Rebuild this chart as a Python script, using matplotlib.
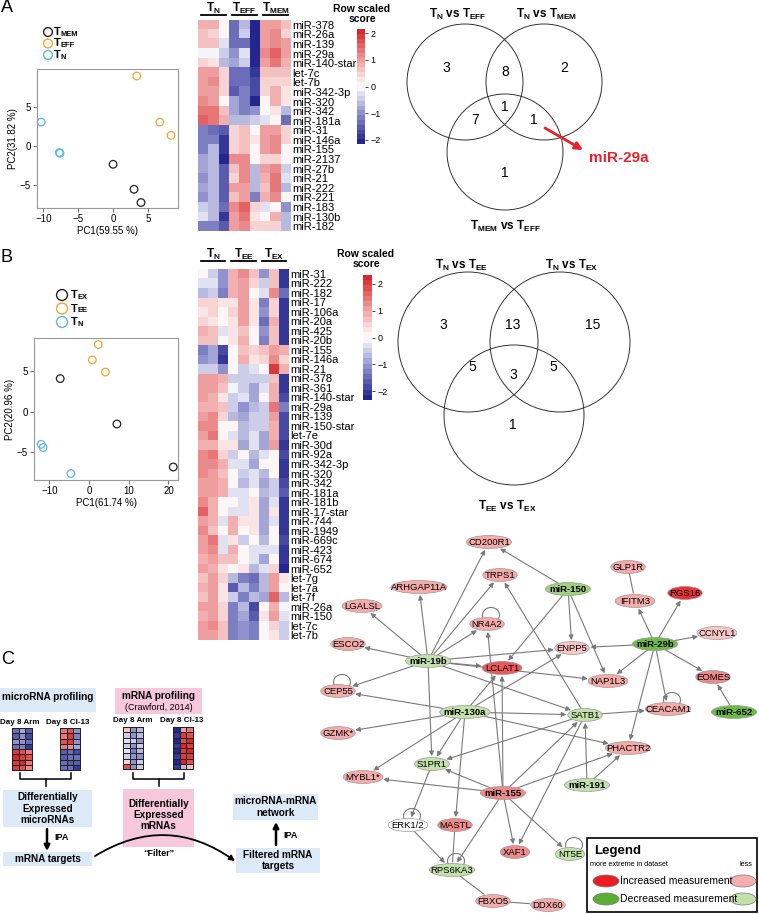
import numpy as np
import matplotlib.pyplot as plt
from matplotlib.colors import LinearSegmentedColormap
from matplotlib.patches import Ellipse, Circle, Rectangle, FancyArrowPatch, Arc

plt.rcParams['font.family'] = ['Liberation Sans', 'DejaVu Sans']
plt.rcParams['mathtext.fontset'] = 'custom'
plt.rcParams['mathtext.rm'] = 'Liberation Sans'
plt.rcParams['mathtext.bf'] = 'Liberation Sans:bold'
plt.rcParams['mathtext.it'] = 'Liberation Sans:italic'

# ---- data ----
# PCA panel A
pca_a_mem_x = [0.0, 3.0, 4.0]
pca_a_mem_y = [-2.3, -5.5, -7.2]
pca_a_eff_x = [3.4, 6.7, 8.3]
pca_a_eff_y = [9.0, 3.1, 1.4]
pca_a_n_x = [-10.3, -7.7, -7.6]
pca_a_n_y = [3.1, -0.8, -0.9]
# PCA panel B
pca_b_ex_x = [-7.3, 7.0, 21.2]
pca_b_ex_y = [4.1, -1.5, -6.8]
pca_b_ee_x = [2.3, 0.8, 4.1]
pca_b_ee_y = [8.3, 6.4, 4.9]
pca_b_n_x = [-12.1, -11.6, -4.6]
pca_b_n_y = [-4.0, -4.4, -7.6]

# heatmap A (TN x3, TEFF x3, TMEM x3)
heat_a_rows = ['miR-378', 'miR-26a', 'miR-139', 'miR-29a', 'miR-140-star', 'let-7c', 'let-7b',
               'miR-342-3p', 'miR-320', 'miR-342', 'miR-181a', 'miR-31', 'miR-146a', 'miR-155',
               'miR-2137', 'miR-27b', 'miR-21', 'miR-222', 'miR-221', 'miR-183', 'miR-130b', 'miR-182']
heat_a = [
    [0.8, 0.8, 0.1, -1.3, -0.7, -2.0, 1.0, 1.0, 0.6],
    [0.6, 0.4, 0.0, -1.3, -0.5, -2.0, 1.0, 1.1, 0.5],
    [0.6, 0.6, -0.3, -1.3, -1.3, -2.0, 1.0, 1.2, 0.9],
    [-0.1, -0.1, -0.5, -0.9, -0.2, -2.0, 1.1, 1.5, 0.9],
    [0.5, 0.2, -0.6, -0.8, -0.4, -2.0, 1.0, 1.3, 0.8],
    [1.0, 1.0, 0.4, -1.4, -1.3, -1.8, 0.6, 0.6, 0.6],
    [1.0, 1.1, 0.4, -1.4, -1.3, -1.7, 0.5, 0.5, 0.5],
    [1.0, 1.0, 0.5, -1.6, -1.2, -1.7, 0.4, 0.8, 0.3],
    [1.2, 1.0, 0.1, -0.8, -1.2, -2.0, 0.1, 0.8, 0.3],
    [1.4, 1.4, 0.7, -0.8, -1.2, -1.0, 0.0, 0.3, -0.7],
    [1.5, 1.4, 0.8, -0.6, -0.6, -0.5, -0.3, 0.0, -1.4],
    [-1.2, -1.4, -1.6, 0.5, 0.7, 0.0, 1.0, 1.0, 0.4],
    [-1.2, -1.1, -1.8, 0.4, 0.7, 0.2, 1.0, 1.1, 0.4],
    [-1.1, -0.7, -1.9, 0.4, 0.7, 0.1, 0.9, 1.1, 0.0],
    [-0.8, -0.6, -2.2, 1.1, 1.1, 0.0, 0.4, 0.5, 0.1],
    [-0.8, -0.6, -1.6, 0.7, 1.1, -0.7, 0.9, 1.1, -0.4],
    [-0.9, -0.6, -1.6, 0.5, 1.1, -0.7, 0.8, 1.3, -0.3],
    [-0.8, -0.6, -1.5, 1.0, 0.9, -0.6, 0.6, 1.3, -0.6],
    [-1.0, -0.6, -1.6, 0.6, 1.0, -1.1, 0.8, 1.2, 0.0],
    [-0.5, -0.6, -1.3, 1.2, 1.6, 0.4, -0.3, 0.1, -1.0],
    [-0.2, -0.7, -1.8, 1.0, 1.4, 0.2, 0.1, 0.8, -0.7],
    [-1.1, -1.1, -1.6, 1.0, 1.2, 0.5, 0.4, 0.4, -0.6],
]

# heatmap B (TN x3, TEE x3, TEX x3)
heat_b_rows = ['miR-31', 'miR-222', 'miR-182', 'miR-17', 'miR-106a', 'miR-20a', 'miR-425', 'miR-20b',
               'miR-155', 'miR-146a', 'miR-21', 'miR-378', 'miR-361', 'miR-140-star', 'miR-29a',
               'miR-139', 'miR-150-star', 'let-7e', 'miR-30d', 'miR-92a', 'miR-342-3p', 'miR-320',
               'miR-342', 'miR-181a', 'miR-181b', 'miR-17-star', 'miR-744', 'miR-1949', 'miR-669c',
               'miR-423', 'miR-674', 'miR-652', 'let-7g', 'let-7a', 'let-7f', 'miR-26a', 'miR-150',
               'let-7c', 'let-7b']
heat_b = [
    [0.0, -0.5, -1.0, 0.9, 1.3, 0.6, -1.0, 0.7, -2.0],
    [-0.3, -0.3, -1.0, 0.8, 1.1, 0.5, -0.4, 0.7, -2.0],
    [-0.6, -0.4, -1.3, 0.8, 1.1, 0.0, -0.2, 1.2, -1.5],
    [0.4, 0.4, 0.2, 0.2, 1.1, 0.3, -1.3, 0.5, -2.1],
    [0.2, 0.5, 0.0, 0.5, 1.1, 0.3, -1.1, 0.5, -2.1],
    [0.4, 0.2, 0.0, 0.2, 1.0, 0.2, -1.5, 0.8, -2.0],
    [0.9, 0.6, -0.2, 0.2, 0.6, 0.0, -1.1, 0.7, -2.0],
    [0.6, 0.6, 0.1, 0.3, 0.9, 0.0, -1.2, 0.7, -2.0],
    [-1.3, -0.9, -1.9, 0.0, 0.7, 0.4, 0.6, 1.0, 0.9],
    [-1.1, -0.8, -2.0, 0.0, 0.8, 0.2, 0.4, 1.3, 0.5],
    [-0.4, -0.4, -1.1, 0.0, -0.4, -0.2, 0.1, 2.1, 0.8],
    [1.1, 1.1, 0.8, -0.4, -0.4, -0.4, -0.4, 0.7, -2.0],
    [1.1, 1.0, 0.6, -0.1, -0.4, -0.8, -0.3, 0.9, -2.0],
    [1.1, 0.9, 0.3, -0.5, -0.3, -0.9, 0.0, 0.9, -1.9],
    [0.9, 0.9, 0.6, -0.5, -1.0, -0.7, -0.4, 1.5, -1.2],
    [1.1, 1.3, 0.5, -0.6, -0.8, -0.5, -0.4, 1.0, -1.8],
    [1.2, 1.2, 0.1, 0.1, -0.6, -0.5, -0.5, 0.8, -1.9],
    [1.1, 1.4, 0.1, -0.3, -0.6, -0.2, -0.9, 0.8, -1.8],
    [0.9, 0.9, 0.3, 0.3, -0.8, -0.2, -0.8, 1.0, -2.0],
    [1.3, 1.4, 0.4, -0.4, 0.0, -0.7, -0.3, 0.1, -1.8],
    [1.2, 1.2, 0.8, -0.3, -0.2, -0.8, 0.0, 0.0, -2.1],
    [1.2, 1.1, 0.7, 0.0, -0.5, -0.3, -0.6, 0.1, -2.0],
    [1.1, 1.1, 0.8, 0.0, -0.7, -0.3, -0.8, -0.4, -1.8],
    [1.1, 1.1, 0.8, -0.2, -0.3, 0.0, -0.7, -0.4, -1.6],
    [1.3, 0.9, 0.0, 0.1, -0.2, 0.2, -0.9, -0.2, -2.0],
    [1.6, 0.9, 0.0, -0.2, -0.2, 0.2, -0.9, 0.2, -2.0],
    [1.0, 0.8, -0.2, 0.9, 0.2, 0.3, -0.9, -0.2, -2.1],
    [1.3, 0.6, 0.0, 0.8, 0.0, 0.3, -0.9, 0.0, -2.1],
    [1.0, 1.5, -0.2, 0.2, -0.5, 0.0, -0.6, 0.0, -1.8],
    [1.0, 1.3, -0.2, 0.8, 0.0, -0.2, -0.2, -0.2, -2.0],
    [0.9, 1.1, 0.6, 0.6, 0.0, -0.3, -0.9, 0.0, -2.0],
    [1.0, 0.8, 0.2, 0.0, 0.3, -0.6, -0.2, 0.4, -2.2],
    [0.6, 1.1, 0.4, -0.7, -1.2, -1.5, -0.7, 1.1, 0.2],
    [0.9, 1.1, 0.3, -1.6, -0.7, -1.2, -0.6, 1.1, 0.0],
    [0.6, 1.1, 0.3, -0.5, -1.2, -0.7, -0.8, 1.6, -0.6],
    [1.0, 1.1, 0.5, -1.3, -0.7, -1.9, 0.0, 0.9, -0.1],
    [0.9, 1.0, 0.5, -1.3, -0.8, -1.6, 0.3, 1.0, -0.3],
    [1.1, 1.2, 0.6, -1.2, -1.0, -1.3, 0.0, 0.4, -0.4],
    [1.1, 1.1, 0.6, -1.2, -1.0, -1.2, 0.0, 0.3, -0.5],
]

# Venn counts: only1, only2, 1&2, 1&3, 2&3, all, only3
venn_a_counts = [3, 2, 8, 7, 1, 1, 1]
venn_b_counts = [3, 15, 13, 5, 5, 3, 1]

# flowchart mini heatmaps (8 rows x 3 cols)
mirna_arm = [[-1.2, -0.8, -1.5], [-1.4, -1.0, -1.6], [-1.0, -0.9, -1.3], [-1.3, -1.1, -1.7],
             [1.8, 1.6, 1.2], [1.9, 1.7, 1.5], [1.7, 1.9, 1.3], [1.8, 1.6, 1.0]]
mirna_cl13 = [[1.3, 1.5, -1.0], [1.2, 1.7, -1.1], [1.5, 1.8, -0.9], [1.2, 1.0, -0.8],
              [-1.4, -1.2, -1.6], [-1.5, -1.3, -1.2], [-1.2, -1.4, -1.5], [-1.3, -1.2, -1.7]]
mrna_arm = [[0.6, -0.9, -0.6], [-0.4, -1.0, -0.6], [-0.3, -0.5, -1.0], [-0.5, -0.9, -0.5],
            [-0.3, -1.1, -0.6], [-0.5, -0.9, -0.9], [0.4, -1.0, -0.5], [1.6, -1.0, -0.4]]
mrna_cl13 = [[-1.9, 0.9, 1.2], [-1.8, 1.8, 1.5], [-1.9, 1.6, 1.9], [-1.8, 1.9, 1.7],
             [-1.9, 1.8, 1.9], [-1.8, 1.7, 1.8], [-1.9, 1.9, 1.6], [-1.8, -0.6, 0.5]]

# network: name -> (x, y, shade)
net_nodes = {
    'CD200R1': (489, 542, 'p'), 'TRPS1': (500, 575, 'p'), 'ARHGAP11A': (419, 587, 'p'),
    'miR-150': (568, 589, 'g2'), 'GLP1R': (628, 567, 'p'), 'IFITM3': (635, 601, 'p'),
    'RGS16': (685, 593, 'r'), 'NR4A2': (487, 624, 'p'), 'CCNYL1': (717, 633, 'p0'),
    'ENPP5': (572, 648, 'p0'), 'miR-29b': (655, 644, 'g3'), 'miR-19b': (428, 661, 'g1'),
    'LCLAT1': (502, 668, 'r2'), 'NAP1L3': (608, 681, 'p'), 'EOMES': (713, 677, 'p2'),
    'LGALSL': (362, 606, 'p'), 'ESCO2': (348, 644, 'p'), 'CEP55': (338, 691, 'p'),
    'GZMK*': (338, 733, 'p'), 'MYBL1*': (363, 777, 'p'), 'miR-130a': (465, 712, 'g1'),
    'SATB1': (585, 715, 'g1'), 'CEACAM1': (668, 709, 'p'), 'miR-652': (734, 712, 'g3'),
    'PHACTR2': (628, 748, 'p'), 'S1PR1': (432, 764, 'g1'), 'miR-191': (587, 785, 'g1'),
    'miR-155': (503, 793, 'p2'), 'ERK1/2': (408, 825, 'w'), 'MASTL': (455, 825, 'p2'),
    'XAF1': (515, 852, 'p2'), 'NT5E': (570, 854, 'g1'), 'RPS6KA3': (452, 870, 'g1'),
    'FBXO5': (493, 901, 'p'), 'DDX60': (548, 905, 'p'),
}
net_arrows = [
    ('miR-150', 'CD200R1'), ('miR-150', 'ENPP5'), ('miR-150', 'NAP1L3'), ('miR-150', 'LCLAT1'),
    ('miR-29b', 'IFITM3'), ('miR-29b', 'RGS16'), ('miR-29b', 'CCNYL1'), ('miR-29b', 'EOMES'),
    ('miR-29b', 'ENPP5'), ('miR-29b', 'NAP1L3'), ('miR-29b', 'CEACAM1'), ('miR-29b', 'PHACTR2'),
    ('miR-652', 'EOMES'),
    ('miR-19b', 'ARHGAP11A'), ('miR-19b', 'CD200R1'), ('miR-19b', 'TRPS1'), ('miR-19b', 'NR4A2'),
    ('miR-19b', 'ENPP5'), ('miR-19b', 'LCLAT1'), ('miR-19b', 'NAP1L3'), ('miR-19b', 'LGALSL'),
    ('miR-19b', 'ESCO2'), ('miR-19b', 'CEP55'), ('miR-19b', 'S1PR1'), ('miR-19b', 'SATB1'),
    ('miR-130a', 'CEP55'), ('miR-130a', 'GZMK*'), ('miR-130a', 'MYBL1*'), ('miR-130a', 'S1PR1'),
    ('miR-130a', 'SATB1'), ('miR-130a', 'PHACTR2'), ('miR-130a', 'MASTL'), ('miR-130a', 'ENPP5'),
    ('miR-130a', 'LCLAT1'),
    ('miR-155', 'S1PR1'), ('miR-155', 'PHACTR2'), ('miR-155', 'SATB1'), ('miR-155', 'XAF1'),
    ('miR-155', 'NT5E'), ('miR-155', 'RPS6KA3'), ('miR-155', 'LCLAT1'), ('miR-155', 'NR4A2'),
    ('miR-155', 'MYBL1*'),
    ('SATB1', 'CEACAM1'), ('SATB1', 'XAF1'), ('SATB1', 'S1PR1'), ('SATB1', 'TRPS1'),
    ('miR-191', 'SATB1'), ('miR-191', 'PHACTR2'),
    ('S1PR1', 'ERK1/2'), ('ERK1/2', 'RPS6KA3'),
]
net_lines = [('GLP1R', 'IFITM3'), ('MASTL', 'RPS6KA3'), ('RPS6KA3', 'FBXO5'), ('FBXO5', 'DDX60')]
net_loops = ['NR4A2', 'CEACAM1', 'ERK1/2', 'RPS6KA3', 'NT5E', 'CEP55']

# ---- figure ----
W, H = 759, 914
fig = plt.figure(figsize=(W / 100, H / 100), dpi=100)


def px_axes(x, y, w, h):
    return fig.add_axes([x / W, 1 - (y + h) / H, w / W, h / H])


ov = px_axes(0, 0, W, H)
ov.set_xlim(0, W)
ov.set_ylim(H, 0)
ov.axis('off')


def tsub(s):
    return r'$\mathbf{T_{%s}}$' % s


def t_label(x, y, sub, fs=8):
    # bold T followed by a small, slightly lowered subscript
    ov.text(x, y, 'T', fontsize=fs, fontweight='bold', va='center', ha='left')
    ov.annotate(sub, xy=(x, y), xytext=(0.62 * fs, -1.5), textcoords='offset points',
                fontsize=fs * 0.68, fontweight='bold', va='center', ha='left')


heat_cmap = LinearSegmentedColormap.from_list(
    'rb', ['#23268e', '#8b8dcc', '#ffffff', '#ee9a9a', '#d8262a']).resampled(24)

C_BLACK, C_ORANGE, C_BLUE = '#222222', '#f0a630', '#5db6e8'

# panel letters
ov.text(1, 8, 'A', fontsize=13, va='center')
ov.text(1, 257, 'B', fontsize=13, va='center')
ov.text(1, 659, 'C', fontsize=13, va='center')


def pca(box, groups, xlim, ylim, xt, yt, xl, yl):
    ax = px_axes(*box)
    for xs, ys, c in groups:
        ax.scatter(xs, ys, s=30, facecolors='none', edgecolors=c, linewidths=0.9, clip_on=False)
    ax.set_xlim(*xlim)
    ax.set_ylim(*ylim)
    ax.set_xticks(xt)
    ax.set_yticks(yt)
    ax.tick_params(labelsize=7, length=3, width=0.6, color='#555555', pad=1.5)
    for s in ax.spines.values():
        s.set_color('#999999')
        s.set_linewidth(0.8)
    ax.set_xlabel(xl, fontsize=7, labelpad=1)
    ax.set_ylabel(yl, fontsize=7, labelpad=1)
    return ax


pca((37, 69, 141, 139),
    [(pca_a_mem_x, pca_a_mem_y, C_BLACK), (pca_a_eff_x, pca_a_eff_y, C_ORANGE), (pca_a_n_x, pca_a_n_y, C_BLUE)],
    (-10.9, 9.3), (-7.9, 9.9), [-10, -5, 0, 5], [-5, 0, 5], 'PC1(59.55 %)', 'PC2(31.82 %)')
pca((34, 338, 144, 142),
    [(pca_b_ex_x, pca_b_ex_y, C_BLACK), (pca_b_ee_x, pca_b_ee_y, C_ORANGE), (pca_b_n_x, pca_b_n_y, C_BLUE)],
    (-13.9, 22.4), (-8.4, 9.1), [-10, 0, 10, 20], [-5, 0, 5], 'PC1(61.74 %)', 'PC2(20.96 %)')

# PCA legends
for (cx, cy, lab, c, sz) in [(48, 32, 'MEM', C_BLACK, 40), (48, 43.5, 'EFF', C_ORANGE, 40), (48, 55, 'N', C_BLUE, 40),
                             (62, 295, 'EX', C_BLACK, 62), (62, 308.5, 'EE', C_ORANGE, 62), (62, 322, 'N', C_BLUE, 62)]:
    ov.scatter([cx], [cy], s=sz, facecolors='none', edgecolors=c, linewidths=1.0)
    t_label(cx + 6 + (sz - 40) / 8, cy, lab)


def heatmap(x, y, w, h, vals, rows, vlim, fs):
    ax = px_axes(x, y, w, h)
    im = ax.imshow(np.array(vals), cmap=heat_cmap, vmin=-vlim, vmax=vlim, aspect='auto', interpolation='nearest')
    ax.set_yticks(range(len(rows)))
    ax.set_yticklabels(rows, fontsize=fs)
    ax.yaxis.tick_right()
    ax.tick_params(length=0, pad=1)
    ax.set_xticks([])
    for s in ax.spines.values():
        s.set_visible(False)
    return im


def groups_header(x0, w, y, labels):
    cw = w / 3
    for i, lab in enumerate(labels):
        cx = x0 + cw * (i + 0.5)
        ov.text(cx, y, tsub(lab), fontsize=8.5, ha='center', va='center')
        ov.plot([x0 + cw * i + 3, x0 + cw * (i + 1) - 3], [y + 7, y + 7], color='k', lw=1.3)


def colorbar(im, x, y, w, h, tx, ty):
    cax = px_axes(x, y, w, h)
    cb = fig.colorbar(im, cax=cax, ticks=[-2, -1, 0, 1, 2])
    cb.outline.set_visible(False)
    cax.tick_params(labelsize=6.5, length=2, width=0.5, pad=2)
    ov.text(tx, ty, 'Row scaled\nscore', fontsize=7.5, fontweight='bold', ha='center', va='center',
            linespacing=0.95)


im_a = heatmap(198, 20, 93, 211, heat_a, heat_a_rows, 2.15, 8)
groups_header(198, 93, 8, ['N', 'EFF', 'MEM'])
colorbar(im_a, 357, 29, 8, 115, 362, 14)

im_b = heatmap(198, 269, 91, 371, heat_b, heat_b_rows, 2.33, 8)
groups_header(198, 91, 254, ['N', 'EE', 'EX'])
colorbar(im_b, 363, 275, 9, 125, 366, 259)


# Venn diagrams
def venn(c1, c2, c3, r, counts, pos, titles, tpos, fs):
    for c in (c1, c2, c3):
        ov.add_patch(Circle(c, r, fill=False, ec='#333333', lw=0.7))
    for n, p in zip(counts, pos):
        ov.text(p[0], p[1], str(n), fontsize=fs, ha='center', va='center')
    for t, p in zip(titles, tpos):
        ov.text(p[0], p[1], t, fontsize=8.5, ha='center', va='center')


venn((465, 82), (544, 82), (505, 152), 58, venn_a_counts,
     [(446, 68), (564, 68), (505, 72), (475, 120), (534, 120), (505, 107), (505, 173)],
     [r'$\mathbf{T_{N}\ vs\ T_{EFF}}$', r'$\mathbf{T_{N}\ vs\ T_{MEM}}$', r'$\mathbf{T_{MEM}\ vs\ T_{EFF}}$'],
     [(458, 14), (547, 14), (505, 226)], 10)
ov.add_patch(FancyArrowPatch((545, 128), (583, 150), arrowstyle='-|>', mutation_scale=11, lw=2,
                             color='#e8212a', shrinkA=0, shrinkB=0))
ov.text(589, 158, 'miR-29a', fontsize=11, fontweight='bold', color='#e8212a', va='center')

venn((468, 342), (560, 342), (514, 415), 70, venn_b_counts,
     [(443, 325), (593, 325), (513, 325), (472, 367), (553, 367), (513, 375), (513, 425)],
     [r'$\mathbf{T_{N}\ vs\ T_{EE}}$', r'$\mathbf{T_{N}\ vs\ T_{EX}}$', r'$\mathbf{T_{EE}\ vs\ T_{EX}}$'],
     [(462, 265), (572, 265), (507, 506)], 10)

# ---- flowchart ----
BLUE_BOX, PINK_BOX = '#dce9f6', '#f7c8dc'


def box(x, y, w, h, fc, text, fs=7.2, ty=None):
    ov.add_patch(Rectangle((x, y), w, h, fc=fc, ec='none'))
    ov.text(x + w / 2, ty if ty is not None else y + h / 2, text, fontsize=fs, fontweight='bold',
            ha='center', va='center', linespacing=1.15)


box(0, 688, 96, 24, BLUE_BOX, 'microRNA profiling', ty=697)
box(115, 688, 87, 26, PINK_BOX, 'mRNA profiling', ty=696)
ov.text(158.5, 707, '(Crawford, 2014)', fontsize=6.5, ha='center', va='center')
for x, y, t in [(20, 722, 'Day 8 Arm'), (68, 722, 'Day 8 Cl-13'), (133, 720, 'Day 8 Arm'), (182, 720, 'Day 8 Cl-13')]:
    ov.text(x, y, t, fontsize=5.8, fontweight='bold', ha='center', va='center')


def mini_heat(x0, y0, vals):
    v = np.array(vals)
    xs = np.linspace(x0, x0 + 20, 4)
    ys = np.linspace(y0, y0 + 42, 9)
    ov.pcolormesh(xs, ys, v, cmap=heat_cmap, vmin=-2, vmax=2, edgecolors='#222222', linewidth=0.4)


mini_heat(12, 728, mirna_arm)
mini_heat(60, 728, mirna_cl13)
mini_heat(123, 727, mrna_arm)
mini_heat(173, 727, mrna_cl13)

for xa, xb in [(20, 71), (133, 184)]:
    ov.plot([xa, xa, xb, xb], [773, 779, 779, 773], color='k', lw=1.1)
    ov.plot([(xa + xb) / 2] * 2, [779, 786], color='k', lw=1.1)

box(3, 790, 89, 37, BLUE_BOX, 'Differentially\nExpressed\nmicroRNAs')
box(3, 852, 89, 14, BLUE_BOX, 'mRNA targets')
box(123, 789, 71, 58, PINK_BOX, 'Differentially\nExpressed\nmRNAs', ty=815)
box(236, 848, 84, 25, BLUE_BOX, 'Filtered mRNA\ntargets')
box(233, 794, 85, 26, BLUE_BOX, 'microRNA-mRNA\nnetwork')

ov.add_patch(FancyArrowPatch((47, 829), (47, 851), arrowstyle='-|>', mutation_scale=8, lw=1.8,
                             color='k', shrinkA=0, shrinkB=0))
ov.text(54, 838, 'IPA', fontsize=6.5, fontweight='bold', va='center')
ov.add_patch(FancyArrowPatch((276, 845), (276, 822), arrowstyle='-|>', mutation_scale=8, lw=1.8,
                             color='k', shrinkA=0, shrinkB=0))
ov.text(283, 836, 'IPA', fontsize=6.5, fontweight='bold', va='center')
ov.add_patch(FancyArrowPatch((95, 856), (235, 861), arrowstyle='-|>', mutation_scale=8, lw=1.3,
                             color='k', shrinkA=0, shrinkB=0, connectionstyle='arc3,rad=-0.33'))
ov.text(159, 853, '\u201cFilter\u201d', fontsize=6.5, fontweight='bold', ha='center', va='center')

# ---- network ----
shade_colors = {'p0': '#f9c6c5', 'p': '#f5abaa', 'p2': '#ef8a8a', 'r2': '#ea5a5c', 'r': '#e83038',
                'g1': '#c3e1aa', 'g2': '#a0d07e', 'g3': '#6cbb45', 'w': '#ffffff'}
NODE_H = 13


def node_w(name):
    return len(name) * 5.3 + 8


def boundary(name, dx, dy):
    cx, cy, _ = net_nodes[name]
    a, b = node_w(name) / 2, NODE_H / 2
    t = 1.0 / np.sqrt((dx / a) ** 2 + (dy / b) ** 2)
    return cx + dx * t, cy + dy * t


def edge(s, t, arrow):
    sx, sy, _ = net_nodes[s]
    tx, ty, _ = net_nodes[t]
    dx, dy = tx - sx, ty - sy
    p0 = boundary(s, dx, dy)
    p1 = boundary(t, -dx, -dy)
    ov.add_patch(FancyArrowPatch(p0, p1, arrowstyle='-|>' if arrow else '-', mutation_scale=7,
                                 lw=0.8, color='#7a7a7a', shrinkA=0, shrinkB=1, zorder=2))


for s, t in net_arrows:
    edge(s, t, True)
for s, t in net_lines:
    edge(s, t, False)
for n in net_loops:
    x, y, _ = net_nodes[n]
    # y axis is inverted, so the arc through 270 deg is the visible upper loop
    ov.add_patch(Arc((x + 4, y - 9), 17, 15, theta1=140, theta2=40, color='#7a7a7a', lw=0.8, zorder=2))

for name, (x, y, sh) in net_nodes.items():
    ov.add_patch(Ellipse((x, y), node_w(name), NODE_H, fc=shade_colors[sh], ec='#9a9a9a', lw=0.5, zorder=3))
    ov.text(x, y + 0.5, name, fontsize=6.8, ha='center', va='center', zorder=4,
            fontweight='bold' if name.startswith('miR') else 'normal')

# network legend
ov.add_patch(Rectangle((587, 838), 170, 74, fc='white', ec='k', lw=1.2, zorder=5))
ov.text(594, 851, 'Legend', fontsize=9.5, fontweight='bold', va='center', zorder=6)
ov.text(590, 864, 'more extreme in dataset', fontsize=5.2, va='center', zorder=6)
ov.text(752, 864, 'less', fontsize=5.2, va='center', ha='right', zorder=6)
for yy, dark, light, lab in [(881, '#ea1c24', '#f5b0af', 'Increased measurement'),
                             (899, '#5aaf32', '#c3e1aa', 'Decreased measurement')]:
    ov.add_patch(Ellipse((606, yy), 26, 12, fc=dark, ec='#777777', lw=0.5, zorder=6))
    ov.add_patch(Ellipse((743, yy), 26, 12, fc=light, ec='#777777', lw=0.5, zorder=6))
    ov.text(620, yy, lab, fontsize=7.5, va='center', zorder=6)

ov.set_xlim(0, W)
ov.set_ylim(H, 0)

fig.savefig('out.png', dpi=100)
